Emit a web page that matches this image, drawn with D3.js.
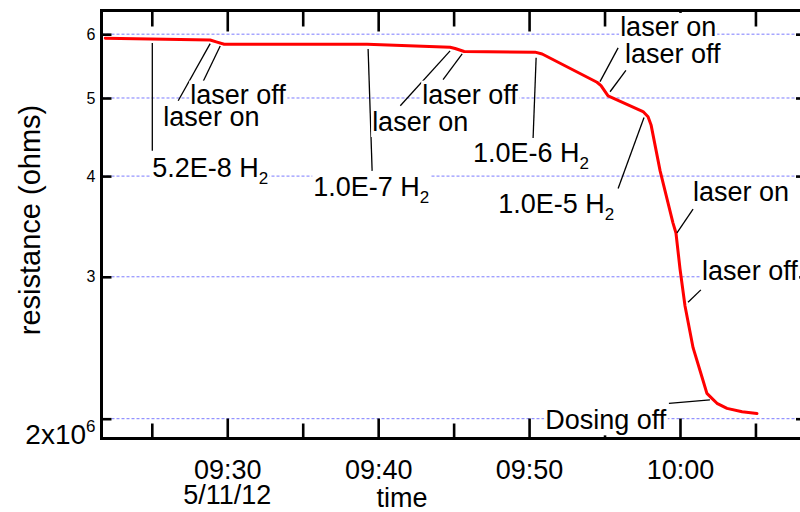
<!DOCTYPE html>
<html>
<head>
<meta charset="utf-8">
<script src="https://cdn.jsdelivr.net/npm/d3@7"></script>
<style>
  body { margin: 0; background: #fff; }
  svg { display: block; }
  text { font-family: "Liberation Sans", Arial, sans-serif; fill: #000; }
</style>
</head>
<body>
<svg id="chart" width="800" height="512"></svg>
<script>
// Resistance trace, 11 May 2012
const times = ["09:21:55","09:28:52","09:29:16","09:29:48","09:30:20","09:39:16","09:44:46",
  "09:45:06","09:45:42","09:50:24","09:50:52","09:54:30","09:54:46","09:55:14","09:57:33",
  "09:57:53","09:58:05","09:58:41","09:59:32","09:59:44","10:00:00","10:00:20","10:00:52",
  "10:01:28","10:01:47","10:02:07","10:02:27","10:03:07","10:04:07","10:05:06"];
const resistance = [5.93e6,5.90e6,5.87e6,5.83e6,5.83e6,5.83e6,5.78e6,
  5.76e6,5.71e6,5.70e6,5.67e6,5.23e6,5.18e6,5.03e6,4.81e6,
  4.74e6,4.63e6,4.06e6,3.50e6,3.40e6,3.07e6,2.76e6,2.45e6,
  2.25e6,2.15e6,2.12e6,2.09e6,2.06e6,2.04e6,2.03e6];

const yTicks = [2e6, 3e6, 4e6, 5e6, 6e6];
const yTickLabels = ["2x10", "3", "4", "5", "6"];
const xMajorTicks = ["09:30", "09:40", "09:50", "10:00"];
const xMinorTicks = ["09:25", "09:35", "09:45", "09:55", "10:05"];
const dateLabel = "5/11/12";
const xTitle = "time";
const yTitle = "resistance (ohms)";

// Event notes: leader line from the trace to the label, label anchored at its left baseline
const notes = [
  { label: "5.2E-8 H", sub: "2", from: ["09:25:02", 5.85e6], to: ["09:25:02", 4.30e6], at: ["09:25:02", 3.99e6] },
  { label: "laser on",  from: ["09:28:52", 5.84e6], to: ["09:26:45", 4.96e6], at: ["09:25:46", 4.62e6] },
  { label: "laser off", from: ["09:29:32", 5.80e6], to: ["09:28:25", 5.25e6], at: ["09:27:33", 4.92e6] },
  { label: "1.0E-7 H", sub: "2", from: ["09:39:20", 5.75e6], to: ["09:39:36", 4.06e6], at: ["09:35:42", 3.78e6] },
  { label: "laser on",  from: ["09:44:46", 5.72e6], to: ["09:41:28", 4.89e6], at: ["09:39:36", 4.55e6] },
  { label: "laser off", from: ["09:45:34", 5.67e6], to: ["09:44:18", 5.27e6], at: ["09:42:55", 4.92e6] },
  { label: "1.0E-6 H", sub: "2", from: ["09:50:28", 5.61e6], to: ["09:50:16", 4.46e6], at: ["09:46:17", 4.16e6] },
  { label: "laser on",  from: ["09:54:42", 5.24e6], to: ["09:55:54", 5.77e6], at: ["09:56:02", 5.97e6] },
  { label: "laser off", from: ["09:55:22", 5.09e6], to: ["09:56:25", 5.41e6], at: ["09:56:21", 5.53e6] },
  { label: "1.0E-5 H", sub: "2", from: ["09:57:37", 4.73e6], to: ["09:55:54", 3.86e6], at: ["09:47:57", 3.60e6] },
  { label: "laser on",  from: ["09:59:48", 3.40e6], to: ["10:00:52", 3.64e6], at: ["10:00:52", 3.72e6] },
  { label: "laser off", from: ["10:00:32", 2.79e6], to: ["10:01:23", 2.89e6], at: ["10:01:28", 2.97e6] },
  { label: "Dosing off", from: ["10:01:59", 2.11e6], to: ["09:59:16", 2.09e6], at: ["09:51:04", 1.94e6] }
];

const parseClock = d3.timeParse("%Y-%m-%d %H:%M:%S");
const T = s => parseClock("2012-05-11 " + (s.length === 5 ? s + ":00" : s));

const width = 800, height = 512;
const margin = { left: 101.5, right: -6, top: 10.5, bottom: 73.5 };
const plotL = margin.left, plotR = width - margin.right;
const plotT = margin.top, plotB = height - margin.bottom;

const x = d3.scaleTime()
  .domain([T("09:21:40"), T("10:08:21")])
  .range([plotL, plotR]);
const y = d3.scaleLog()
  .domain([1.89e6, 6.42e6])
  .range([plotB, plotT]);

const svg = d3.select("#chart");
const font = 27;

// dotted horizontal grid
svg.append("g")
  .selectAll("line")
  .data(yTicks)
  .join("line")
  .attr("x1", plotL).attr("x2", plotR)
  .attr("y1", d => y(d)).attr("y2", d => y(d))
  .attr("stroke", "#7b7bff")
  .attr("stroke-width", 1)
  .attr("stroke-dasharray", "3,2");

function styleAxis(g) {
  g.select(".domain").remove();
  g.selectAll(".tick line").attr("stroke", "#000").attr("stroke-width", 2.6);
}

// bottom axis, major ticks with labels
const bottomMajor = svg.append("g")
  .attr("transform", `translate(0,${plotB})`)
  .call(d3.axisBottom(x).tickValues(xMajorTicks.map(T)).tickSize(-20).tickPadding(21)
    .tickFormat(d3.timeFormat("%H:%M")));
styleAxis(bottomMajor);
bottomMajor.selectAll(".tick text")
  .attr("font-size", font).attr("font-family", "Liberation Sans, Arial, sans-serif");

svg.append("g")
  .attr("transform", `translate(0,${plotB})`)
  .call(d3.axisBottom(x).tickValues(xMinorTicks.map(T)).tickSize(-15).tickFormat(""))
  .call(styleAxis);

// top axis mirrors the bottom one
svg.append("g")
  .attr("transform", `translate(0,${plotT})`)
  .call(d3.axisTop(x).tickValues(xMajorTicks.map(T)).tickSize(-21).tickFormat(""))
  .call(styleAxis);
svg.append("g")
  .attr("transform", `translate(0,${plotT})`)
  .call(d3.axisTop(x).tickValues(xMinorTicks.map(T)).tickSize(-16).tickFormat(""))
  .call(styleAxis);

// left axis
const leftAxis = svg.append("g")
  .attr("transform", `translate(${plotL},0)`)
  .call(d3.axisLeft(y).tickValues(yTicks).tickSize(-10).tickPadding(6)
    .tickFormat((d, i) => yTickLabels[i]));
styleAxis(leftAxis);
leftAxis.selectAll(".tick text")
  .attr("font-size", 16).attr("font-family", "Liberation Sans, Arial, sans-serif");
// the bottom label carries the exponent
leftAxis.selectAll(".tick text")
  .filter(d => d === yTicks[0])
  .text(null)
  .attr("font-size", 28)
  .attr("dy", "0.9em")
  .call(t => {
    t.append("tspan").text(yTickLabels[0]);
    t.append("tspan").text("6").attr("font-size", 17).attr("dy", "-0.75em");
  });

// right axis
svg.append("g")
  .attr("transform", `translate(${plotR},0)`)
  .call(d3.axisRight(y).tickValues(yTicks).tickSize(-10).tickFormat(""))
  .call(styleAxis);

// frame
svg.append("rect")
  .attr("x", plotL).attr("y", plotT)
  .attr("width", plotR - plotL).attr("height", plotB - plotT)
  .attr("fill", "none").attr("stroke", "#000").attr("stroke-width", 3);

// trace
const series = times.map((t, i) => ({ t: T(t), v: resistance[i] }));
svg.append("path")
  .datum(series)
  .attr("fill", "none")
  .attr("stroke", "#ff0000")
  .attr("stroke-width", 3)
  .attr("stroke-linejoin", "round")
  .attr("stroke-linecap", "round")
  .attr("d", d3.line().x(d => x(d.t)).y(d => y(d.v)));

// axis titles
svg.append("text")
  .attr("x", x(T("09:30"))).attr("y", 504)
  .attr("text-anchor", "middle").attr("font-size", font)
  .text(dateLabel);
svg.append("text")
  .attr("x", 402).attr("y", 507)
  .attr("text-anchor", "middle").attr("font-size", font)
  .text(xTitle);
svg.append("text")
  .attr("transform", `translate(40,${(105 + 335) / 2}) rotate(-90)`)
  .attr("text-anchor", "middle").attr("font-size", 29)
  .text(yTitle);

// event notes
const noteLayer = svg.append("g");
noteLayer.selectAll("line")
  .data(notes)
  .join("line")
  .attr("x1", d => x(T(d.from[0]))).attr("y1", d => y(d.from[1]))
  .attr("x2", d => x(T(d.to[0]))).attr("y2", d => y(d.to[1]))
  .attr("stroke", "#000").attr("stroke-width", 1.3);

const labels = noteLayer.selectAll("g.note")
  .data(notes)
  .join("g")
  .attr("class", "note");
labels.each(function (d) {
  const g = d3.select(this);
  const txt = g.append("text")
    .attr("x", x(T(d.at[0])))
    .attr("y", y(d.at[1]))
    .attr("font-size", font);
  txt.append("tspan").text(d.label);
  if (d.sub) txt.append("tspan").text(d.sub).attr("font-size", 17).attr("dy", 7);
  const b = txt.node().getBBox();
  g.insert("rect", "text")
    .attr("x", b.x - 1).attr("y", b.y + 1)
    .attr("width", b.width + 2).attr("height", b.height - 1)
    .attr("fill", "#fff");
});
</script>
</body>
</html>
